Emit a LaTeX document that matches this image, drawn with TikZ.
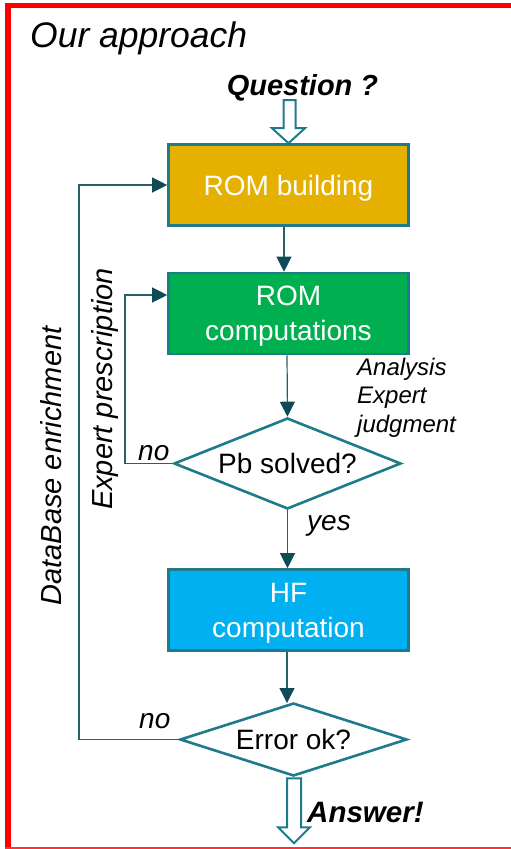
\documentclass[tikz,border=0pt]{standalone}
\usepackage{fontspec}
\setmainfont{Liberation Sans}
\usetikzlibrary{shapes.geometric,arrows.meta,calc}
\definecolor{boxborder}{HTML}{1F7A8C}
\definecolor{connector}{HTML}{2B5E6B}
\definecolor{tipcol}{HTML}{0F4B57}
\definecolor{romgold}{HTML}{E6B000}
\definecolor{romgreen}{HTML}{00B050}
\definecolor{hfblue}{HTML}{00B0F0}
\definecolor{frame}{HTML}{FF0000}
\tikzset{
  procbox/.style={draw=boxborder, line width=2.6pt, minimum width=240pt, minimum height=81pt,
    inner sep=0pt, align=center, text=white, text depth=0pt, font=\fontsize{28}{35}\selectfont},
  decision/.style={diamond, draw=boxborder, line width=2.6pt, fill=white, inner sep=0pt,
    font=\fontsize{28}{33}\selectfont},
  conn/.style={draw=connector, line width=1.2pt},
  arr/.style={conn, -{Triangle[length=15pt,width=15pt,fill=tipcol,color=tipcol]}},
  hollow/.style={draw=boxborder, line width=2pt, fill=white, line join=miter},
  lab/.style={inner sep=0pt, font=\fontsize{28}{33}\selectfont\itshape},
  sidelab/.style={inner sep=0pt, rotate=90, font=\fontsize{29}{33}\selectfont\itshape},
}
\begin{document}
\begin{tikzpicture}[x=1pt,y=-1pt]
\useasboundingbox (0,0) rectangle (511,849);
% red frame
\fill[frame] (5,3) rectangle (11,849);
\fill[frame] (5,3) rectangle (511,8);
\draw[frame!80, line width=1.5pt] (5,848) -- (511,848);

\node[anchor=base west, inner sep=0pt, font=\fontsize{35.5}{40}\selectfont\itshape] (title) at (30,47) {Our approach};
\node[anchor=base, inner sep=0pt, font=\fontsize{29}{33}\selectfont\bfseries\itshape] (question) at (302.5,95) {Question ?};

\node[procbox, fill=romgold] (rb) at (288.5,185) {ROM building};
\node[procbox, fill=romgreen] (rc) at (288.5,313.5) {ROM\\computations};
\node[decision, shape aspect=2.46, minimum width=227pt, minimum height=91pt] (pb) at (287.5,463.5) {Pb solved?};
\node[procbox, fill=hfblue] (hf) at (288.5,610) {HF\\computation};
\node[decision, shape aspect=3.05, minimum width=227pt, minimum height=73pt] (err) at (293.5,739.5) {Error ok?};

% hollow arrows
\draw[hollow, shift={(rb.north)}] (-5,-43) -- (7,-43) -- (7,-15) -- (16.5,-15) -- (0,0) -- (-16.5,-15) -- (-5,-15) -- cycle;
\draw[hollow, shift={(err.south)}] (-6.5,1) -- (7.5,1) -- (7.5,50) -- (16.5,50) -- (0.5,66) -- (-15.5,50) -- (-6.5,50) -- cycle;
\node[anchor=base west, inner sep=0pt, font=\fontsize{29.5}{33}\selectfont\bfseries\itshape] (answer) at (307,822) {Answer!};

% main flow
\draw[arr] (rb.south -| 284,0) -- (rc.north -| 284,0);
\draw[arr] (rc.south -| 287,0) -- (pb.north);
\draw[arr] (pb.south) -- (hf.north -| pb.south);
\draw[arr] (hf.south -| 287,0) -- (287,703);

% feedback loops
\coordinate (dbcorner1) at (79,0);
\draw[arr] (err.west) -- (err.west -| dbcorner1) -- (rb.west -| dbcorner1) -- (rb.west);
\coordinate (expcorner) at (125,0);
\coordinate (rcin) at ([yshift=18.5pt]rc.west);
\draw[arr] (pb.west) -- (pb.west -| expcorner) -- (rcin -| expcorner) -- (rcin);

% labels
\node[sidelab] (dbl) at (51,466) {DataBase enrichment};
\node[sidelab] (expl) at (105,389) {Expert prescription};
\node[lab, anchor=base west] (no1) at (138,460) {no};
\node[lab, anchor=base west] (yes) at (307,530) {yes};
\node[lab, anchor=base west] (no2) at (139,728) {no};
\node[anchor=north west, inner sep=0pt, align=left, font=\fontsize{24}{28.5}\selectfont\itshape] (analysis) at (357,357.5) {Analysis\\Expert\\judgment};
\end{tikzpicture}
\end{document}
